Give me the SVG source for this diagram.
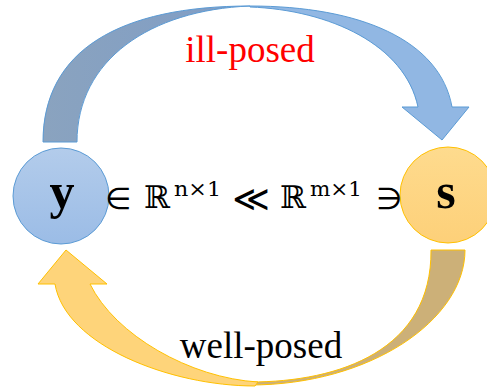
<svg xmlns="http://www.w3.org/2000/svg" width="487" height="388" viewBox="0 0 487 388">
<defs>
<linearGradient id="gBlue" x1="0" y1="0" x2="0" y2="1"><stop offset="0" stop-color="#b3cceb"/><stop offset="1" stop-color="#9bbce6"/></linearGradient>
<linearGradient id="gGold" x1="0" y1="0" x2="0" y2="1"><stop offset="0" stop-color="#fedb8e"/><stop offset="1" stop-color="#fdd079"/></linearGradient>
<linearGradient id="gDarkBlue" x1="0" y1="0" x2="1" y2="0"><stop offset="0" stop-color="#8aa3bf"/><stop offset="1" stop-color="#7f9dc6"/></linearGradient>
</defs>
<style>
.lbl{font-family:"Liberation Serif","Times New Roman",serif;font-size:37px;text-anchor:middle}
.var{font-family:"Liberation Serif","Times New Roman",serif;font-size:50px;font-weight:bold;text-anchor:middle;fill:#000}
.m{font-family:"DejaVu Serif","DejaVu Sans",serif;fill:#000}
.op{font-family:"DejaVu Sans",sans-serif;fill:#000;font-size:30px;text-anchor:middle}
.ll{font-size:36px}
.big{font-size:31px}
.sup{font-size:21px}
.blueStroke{stroke:#5b9bd5;stroke-width:1;stroke-linejoin:round}
.goldStroke{stroke:#ffc000;stroke-width:1;stroke-linejoin:round}
</style>
<g id="connectors">
<g id="ill-posed-arrow">
<path class="blueStroke" fill="url(#gDarkBlue)" d="M43,142 C43,50 120,6 250,6 C150,10 77,60 77,142 Z"/>
<path class="blueStroke" fill="#91b7e3" d="M250,6 C360,6 440,40 452,107 L469,107 L442,140 L402,107 L418,107 C405,45 330,10 250,7 Z"/>
</g>
<g id="well-posed-arrow">
<path class="goldStroke" fill="#ccb078" d="M465,250 C465,320 370,385 250,385 L250,382 C340,382 432,350 431,250 Z"/>
<path class="goldStroke" fill="#fed47a" d="M255,386 C170,386 65,345 55,284 L38,284 L66,250 L107,284 L90,284 C115,335 190,378 258,382 Z"/>
</g>
</g>
<g id="node-y">
<circle cx="61" cy="196" r="48" fill="url(#gBlue)" stroke="#5b9bd5" stroke-width="1"/>
<text class="var" x="62" y="208">y</text>
</g>
<g id="node-s">
<circle cx="448" cy="195" r="48" fill="url(#gGold)" stroke="#ffc000" stroke-width="1"/>
<text class="var" x="446" y="208">s</text>
</g>
<g id="relation">
<text class="op" x="118" y="209">∈</text>
<text class="m big" x="144" y="208" textLength="26" lengthAdjust="spacingAndGlyphs">ℝ</text>
<text class="m sup" x="174" y="196" textLength="47" lengthAdjust="spacingAndGlyphs">n×1</text>
<text class="op ll" x="251" y="211">≪</text>
<text class="m big" x="280" y="208" textLength="26" lengthAdjust="spacingAndGlyphs">ℝ</text>
<text class="m sup" x="310" y="196" textLength="52" lengthAdjust="spacingAndGlyphs">m×1</text>
<text class="op" x="389" y="209">∋</text>
</g>
<g id="labels">
<text class="lbl" x="250" y="62" fill="#ff0000">ill-posed</text>
<text class="lbl" x="261" y="358" fill="#000">well-posed</text>
</g>
</svg>
